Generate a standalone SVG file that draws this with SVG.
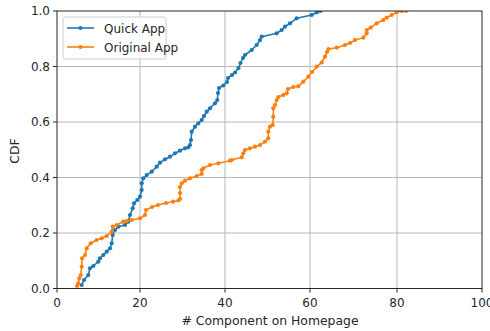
<svg xmlns="http://www.w3.org/2000/svg" width="490" height="331" viewBox="0 0 490 331">
<style>
text{font-family:"DejaVu Sans",sans-serif;fill:#262626;}
.tick{font-size:12px;}
.grid{stroke:#b0b0b0;stroke-width:0.9;fill:none;}
.spine{stroke:#262626;stroke-width:1;fill:none;}
.tk{stroke:#262626;stroke-width:1;}
.blue{stroke:#1f77b4;stroke-width:1.6;fill:none;stroke-linejoin:round;}
.orange{stroke:#ff7f0e;stroke-width:1.6;fill:none;stroke-linejoin:round;}
</style>
<defs>
<clipPath id="ax"><rect x="57" y="11" width="425" height="277.5"/></clipPath>
<marker id="mb" markerUnits="userSpaceOnUse" markerWidth="6" markerHeight="6" refX="3" refY="3" viewBox="0 0 6 6"><circle cx="3" cy="3" r="2.1" fill="#1f77b4"/></marker>
<marker id="mo" markerUnits="userSpaceOnUse" markerWidth="6" markerHeight="6" refX="3" refY="3" viewBox="0 0 6 6"><circle cx="3" cy="3" r="2.1" fill="#ff7f0e"/></marker>
</defs>
<rect width="490" height="331" fill="#fff"/>
<g id="grid">
<path class="grid" d="M140,11V288.5M225,11V288.5M310,11V288.5M397,11V288.5M57,233H482M57,177.5H482M57,122H482M57,66.5H482"/>
</g>
<g id="connectors" clip-path="url(#ax)">
<polyline id="quick" class="blue" marker-start="url(#mb)" marker-mid="url(#mb)" marker-end="url(#mb)" points="81.7,285 84,280 88.3,275 90,268.3 93.3,266 98.3,261.7 100,258.3 103.3,255 106.7,251.7 110,248.3 111.7,243.3 112.7,235 115,230 118.3,226.7 125,225 128.3,221.7 130,215 132.7,208.3 134,203.3 137.3,200 140,196.7 141.7,190 141.7,183.3 143.3,178.3 146.7,175 151.7,171.7 156.7,166.7 160,162.7 165,159.3 170,156.7 175,153.3 180,150.7 185,148.3 188.3,147.3 190,145 191,140 191.7,131.7 195,126.7 198.3,123.3 201.7,120 204,116 206.7,111.7 210,108.3 215,103.3 217.3,100 218,93 219,88 223.3,85.5 227,82 228,78 232,75 235,72.5 238.5,68 240.5,63 243,58 245,55 251.7,50 256.7,45 260,40 261.7,36.7 276.7,33.3 281.7,30 285,26.7 290,23.3 296.7,18.3 311.7,15 316.7,12.5 320.5,11"/>
<polyline id="original" class="orange" marker-start="url(#mo)" marker-mid="url(#mo)" marker-end="url(#mo)" points="77,286 78.3,283.3 79.3,278.3 80.7,275 81.7,266.7 82,258.3 85,255 86.7,248.3 90.7,243.3 96.7,240 101.7,238.3 106.7,236 111.7,231.7 112.7,226.7 116.7,225 123.3,221.7 126.7,221 131.7,220 140,218.3 145,215 146,210 152,207 158,205 166,203 173,201.7 178.3,200.5 180,199 180,193 180,187 181.7,183.3 185,180.7 190,178.3 196.7,176 201.7,174 201.7,170 203.3,168.3 210,165 218.3,163.3 230,160.7 231.7,160 241.7,157.3 243.3,153.3 245,150 250,148.3 255,146.7 260,145 265,141.7 268.3,138.3 268.3,131.7 270,126.7 272.7,125 273.3,116.7 273.3,108.3 275,105 276.7,100 278.3,97 283.3,95 286.7,93.3 288,89 293.3,87 298.3,86.3 303.3,81.7 308.3,76.7 312,72 316.7,66.7 321.7,62.5 325,56.7 327,52 328.5,49 336.7,47.7 345,45 350,43 355,40 363.3,37.7 366.7,33.3 366.7,30 370.7,27.7 376.7,23.3 383.3,20 386.7,17.7 391.7,15 396.7,12.3 401.7,11 406,11"/>
</g>
<g id="axes">
<rect class="spine" x="57" y="11" width="425" height="277.5"/>
<path class="tk" d="M57,288.5v4M140,288.5v4M225,288.5v4M310,288.5v4M397,288.5v4M482,288.5v4M57,288.5h-4M57,233h-4M57,177.5h-4M57,122h-4M57,66.5h-4M57,11h-4"/>
<g class="tick" text-anchor="middle">
<text x="57" y="307">0</text>
<text x="140" y="307">20</text>
<text x="225" y="307">40</text>
<text x="310" y="307">60</text>
<text x="397" y="307">80</text>
<text x="482" y="307">100</text>
</g>
<g class="tick" text-anchor="end">
<text x="50" y="292.8">0.0</text>
<text x="50" y="237.3">0.2</text>
<text x="50" y="181.8">0.4</text>
<text x="50" y="126.3">0.6</text>
<text x="50" y="70.8">0.8</text>
<text x="50" y="15.3">1.0</text>
</g>
<text x="270" y="325" text-anchor="middle" font-size="12.4">#&#160;Component on Homepage</text>
<text transform="translate(19,151) rotate(-90)" text-anchor="middle" font-size="12.4">CDF</text>
</g>
<g id="legend">
<rect x="63" y="17" width="103" height="42" rx="2.5" fill="#fff" fill-opacity="0.85" stroke="#cccccc" stroke-width="1"/>
<line class="blue" x1="67" y1="28" x2="94" y2="28"/>
<circle cx="80.5" cy="28" r="2.1" fill="#1f77b4"/>
<text x="104" y="32.5" font-size="12">Quick App</text>
<line class="orange" x1="67" y1="47" x2="94" y2="47"/>
<circle cx="80.5" cy="47" r="2.1" fill="#ff7f0e"/>
<text x="104" y="51.5" font-size="12">Original App</text>
</g>
</svg>
